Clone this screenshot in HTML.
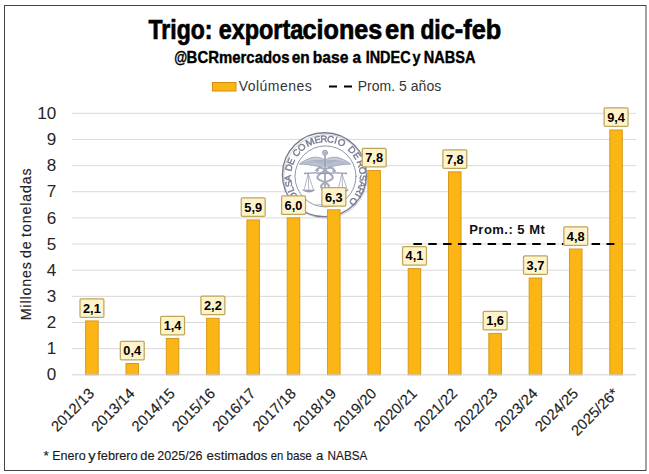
<!DOCTYPE html>
<html><head><meta charset="utf-8"><title>Trigo</title>
<style>
html,body{margin:0;padding:0;background:#fff;}
body{width:649px;height:474px;overflow:hidden;position:relative;font-family:"Liberation Sans",sans-serif;}
svg{position:absolute;left:0;top:0;display:block;}
text{font-family:"Liberation Sans",sans-serif;}
</style></head><body>
<svg width="649" height="474" viewBox="0 0 649 474">
<rect x="0" y="0" width="649" height="474" fill="#ffffff"/>
<rect x="4.5" y="5.5" width="641.5" height="465" fill="#ffffff" stroke="#454545" stroke-width="1"/>
<text x="148.5" y="39" font-size="26.9" font-weight="bold" fill="#000" stroke="#000" stroke-width="0.7" textLength="63.9" lengthAdjust="spacingAndGlyphs">Trigo:</text>
<text x="218.7" y="39" font-size="26.9" font-weight="bold" fill="#000" stroke="#000" stroke-width="0.7" textLength="84.5" lengthAdjust="spacingAndGlyphs">exporta</text>
<text x="302.6" y="39" font-size="26.9" font-weight="bold" fill="#000" stroke="#000" stroke-width="0.7" textLength="79.7" lengthAdjust="spacingAndGlyphs">ciones</text>
<text x="385.0" y="39" font-size="26.9" font-weight="bold" fill="#000" stroke="#000" stroke-width="0.7" textLength="29.8" lengthAdjust="spacingAndGlyphs">en</text>
<text x="420.4" y="39" font-size="26.9" font-weight="bold" fill="#000" stroke="#000" stroke-width="0.7" textLength="20.3" lengthAdjust="spacingAndGlyphs">di</text>
<text x="440.8" y="39" font-size="26.9" font-weight="bold" fill="#000" stroke="#000" stroke-width="0.7" textLength="60.4" lengthAdjust="spacingAndGlyphs">c-feb</text>
<text x="174.2" y="63.1" font-size="16.9" font-weight="bold" fill="#000" stroke="#000" stroke-width="0.4" textLength="12.9" lengthAdjust="spacingAndGlyphs">@</text>
<text x="186.6" y="63.1" font-size="16.9" font-weight="bold" fill="#000" stroke="#000" stroke-width="0.4" textLength="102.9" lengthAdjust="spacingAndGlyphs">BCRmercados</text>
<text x="291.7" y="63.1" font-size="16.9" font-weight="bold" fill="#000" stroke="#000" stroke-width="0.4" textLength="18.0" lengthAdjust="spacingAndGlyphs">en</text>
<text x="312.8" y="63.1" font-size="16.9" font-weight="bold" fill="#000" stroke="#000" stroke-width="0.4" textLength="35.6" lengthAdjust="spacingAndGlyphs">base</text>
<text x="352.6" y="63.1" font-size="16.9" font-weight="bold" fill="#000" stroke="#000" stroke-width="0.4" textLength="8.6" lengthAdjust="spacingAndGlyphs">a</text>
<text x="365.7" y="63.1" font-size="16.9" font-weight="bold" fill="#000" stroke="#000" stroke-width="0.4" textLength="44.9" lengthAdjust="spacingAndGlyphs">INDEC</text>
<text x="412.5" y="63.1" font-size="16.9" font-weight="bold" fill="#000" stroke="#000" stroke-width="0.4" textLength="8.0" lengthAdjust="spacingAndGlyphs">y</text>
<text x="423.8" y="63.1" font-size="16.9" font-weight="bold" fill="#000" stroke="#000" stroke-width="0.4" textLength="51.7" lengthAdjust="spacingAndGlyphs">NABSA</text>
<rect x="212.5" y="82.5" width="23.5" height="8.5" fill="#FBB616" stroke="#D08F12" stroke-width="1"/>
<text x="238.7" y="90.5" font-size="14" fill="#353535" textLength="73" lengthAdjust="spacing">Volúmenes</text>
<line x1="329" y1="86.5" x2="352" y2="86.5" stroke="#000" stroke-width="2" stroke-dasharray="8 7"/>
<text x="357.7" y="90.8" font-size="14" fill="#353535" textLength="83.5" lengthAdjust="spacing">Prom. 5 años</text>
<line x1="72" y1="348.65" x2="636" y2="348.65" stroke="#D9D9D9" stroke-width="1"/>
<line x1="72" y1="322.50" x2="636" y2="322.50" stroke="#D9D9D9" stroke-width="1"/>
<line x1="72" y1="296.35" x2="636" y2="296.35" stroke="#D9D9D9" stroke-width="1"/>
<line x1="72" y1="270.20" x2="636" y2="270.20" stroke="#D9D9D9" stroke-width="1"/>
<line x1="72" y1="244.05" x2="636" y2="244.05" stroke="#D9D9D9" stroke-width="1"/>
<line x1="72" y1="217.90" x2="636" y2="217.90" stroke="#D9D9D9" stroke-width="1"/>
<line x1="72" y1="191.75" x2="636" y2="191.75" stroke="#D9D9D9" stroke-width="1"/>
<line x1="72" y1="165.60" x2="636" y2="165.60" stroke="#D9D9D9" stroke-width="1"/>
<line x1="72" y1="139.45" x2="636" y2="139.45" stroke="#D9D9D9" stroke-width="1"/>
<line x1="72" y1="113.30" x2="636" y2="113.30" stroke="#D9D9D9" stroke-width="1"/>
<text transform="translate(56.2,380.40) scale(1.08,1)" font-size="15.8" fill="#262626" text-anchor="end">0</text>
<text transform="translate(56.2,354.25) scale(1.08,1)" font-size="15.8" fill="#262626" text-anchor="end">1</text>
<text transform="translate(56.2,328.10) scale(1.08,1)" font-size="15.8" fill="#262626" text-anchor="end">2</text>
<text transform="translate(56.2,301.95) scale(1.08,1)" font-size="15.8" fill="#262626" text-anchor="end">3</text>
<text transform="translate(56.2,275.80) scale(1.08,1)" font-size="15.8" fill="#262626" text-anchor="end">4</text>
<text transform="translate(56.2,249.65) scale(1.08,1)" font-size="15.8" fill="#262626" text-anchor="end">5</text>
<text transform="translate(56.2,223.50) scale(1.08,1)" font-size="15.8" fill="#262626" text-anchor="end">6</text>
<text transform="translate(56.2,197.35) scale(1.08,1)" font-size="15.8" fill="#262626" text-anchor="end">7</text>
<text transform="translate(56.2,171.20) scale(1.08,1)" font-size="15.8" fill="#262626" text-anchor="end">8</text>
<text transform="translate(56.2,145.05) scale(1.08,1)" font-size="15.8" fill="#262626" text-anchor="end">9</text>
<text transform="translate(56.2,118.90) scale(1.08,1)" font-size="15.8" fill="#262626" text-anchor="end">10</text>
<text transform="translate(30.6,320.3) rotate(-90)" font-size="14.2" fill="#222" stroke="#222" stroke-width="0.15" word-spacing="-1.3" textLength="151.8" lengthAdjust="spacing">Millones de toneladas</text>
<filter id="sb" x="-5%" y="-5%" width="110%" height="110%"><feGaussianBlur stdDeviation="0.35"/></filter>
<g id="seal" filter="url(#sb)" fill="none" stroke="#858aa0" stroke-linecap="round" stroke-linejoin="round">
<circle cx="324.45" cy="174.7" r="42.4" fill="#ffffff" stroke="none"/>
<circle cx="325.5" cy="176.4" r="41.9" fill="#ffffff" stroke="none"/>
<circle cx="324.45" cy="174.7" r="42" stroke-width="1.4" stroke="#7a7d92"/>
<circle cx="325.5" cy="176.4" r="41.8" stroke-width="0.6" stroke="#a3a7b8"/>
<circle cx="325.5" cy="176.4" r="30.5" stroke-width="0.9"/>
<g font-size="9.3" fill="#7a7d92" stroke="#7a7d92" stroke-width="0.42" text-anchor="middle">
<text transform="translate(325.5,176.4) rotate(-133.5) translate(0,-34.3) scale(1.04,1)">B</text>
<text transform="translate(325.5,176.4) rotate(-122) translate(0,-34.3) scale(1.06,1)">O</text>
<text transform="translate(325.5,176.4) rotate(-110.8) translate(0,-34.3) scale(1.04,1)">L</text>
<text transform="translate(325.5,176.4) rotate(-101.4) translate(0,-34.3) scale(1.0,1)">S</text>
<text transform="translate(325.5,176.4) rotate(-92.6) translate(0,-34.3) scale(0.98,1)">A</text>
<text transform="translate(325.5,176.4) rotate(-76.4) translate(0,-34.3) scale(1.04,1)">D</text>
<text transform="translate(325.5,176.4) rotate(-66.6) translate(0,-34.3) scale(1.0,1)">E</text>
<text transform="translate(325.5,176.4) rotate(-51) translate(0,-34.3) scale(1.04,1)">C</text>
<text transform="translate(325.5,176.4) rotate(-39.2) translate(0,-34.3) scale(1.06,1)">O</text>
<text transform="translate(325.5,176.4) rotate(-24.4) translate(0,-34.3) scale(1.15,1)">M</text>
<text transform="translate(325.5,176.4) rotate(-12.2) translate(0,-34.3) scale(1.0,1)">E</text>
<text transform="translate(325.5,176.4) rotate(-2.6) translate(0,-34.3) scale(1.04,1)">R</text>
<text transform="translate(325.5,176.4) rotate(7.8) translate(0,-34.3) scale(1.04,1)">C</text>
<text transform="translate(325.5,176.4) rotate(15.9) translate(0,-34.3) scale(1.0,1)">I</text>
<text transform="translate(325.5,176.4) rotate(25.6) translate(0,-34.3) scale(1.06,1)">O</text>
<text transform="translate(325.5,176.4) rotate(45) translate(0,-34.3) scale(1.04,1)">D</text>
<text transform="translate(325.5,176.4) rotate(56.5) translate(0,-34.3) scale(1.0,1)">E</text>
<text transform="translate(325.5,176.4) rotate(70.3) translate(0,-34.3) scale(1.04,1)">R</text>
<text transform="translate(325.5,176.4) rotate(81.2) translate(0,-34.3) scale(1.06,1)">O</text>
<text transform="translate(325.5,176.4) rotate(92.2) translate(0,-34.3) scale(1.0,1)">S</text>
<text transform="translate(325.5,176.4) rotate(102.2) translate(0,-34.3) scale(0.98,1)">A</text>
<text transform="translate(325.5,176.4) rotate(112.4) translate(0,-34.3) scale(1.04,1)">R</text>
<text transform="translate(325.5,176.4) rotate(120.6) translate(0,-34.3) scale(1.0,1)">I</text>
<text transform="translate(325.5,176.4) rotate(131.8) translate(0,-34.3) scale(1.06,1)">O</text>
</g>
<g stroke-width="0.9" stroke="#929ab0">
<circle cx="325" cy="152.7" r="2.5" stroke-width="1" fill="#c9ced9"/>
<circle cx="325" cy="152.7" r="0.7" stroke-width="0.6"/>
<line x1="325" y1="155" x2="325" y2="193" stroke-width="2" stroke="#a9b0c1"/>
<path d="M 323.8 159.4 C 320.0 157.0, 314.0 156.2, 309.0 158.6 C 305.0 160.2, 301.5 162.2, 299.4 164.2 C 305.0 164.0, 311.0 165.0, 316.0 166.0 C 319.0 166.8, 321.5 166.6, 323.8 166 Z" fill="#bcc3d1" fill-opacity="0.85" stroke-width="0.8"/><path d="M 323.0 160.4 Q 312.9 159.2 303.0 163.0" stroke-width="0.5"/><path d="M 323.0 161.2 Q 315.1 160.3 307.0 163.6" stroke-width="0.5"/><path d="M 323.0 162.0 Q 317.3 161.4 311.0 164.4" stroke-width="0.5"/><path d="M 323.0 162.8 Q 319.5 162.5 315.0 165.20000000000002" stroke-width="0.5"/><path d="M 323.0 163.6 Q 321.4 163.6 318.5 166.0" stroke-width="0.5"/>
<path d="M 326.2 159.4 C 330.0 157.0, 336.0 156.2, 341.0 158.6 C 345.0 160.2, 348.5 162.2, 350.6 164.2 C 345.0 164.0, 339.0 165.0, 334.0 166.0 C 331.0 166.8, 328.5 166.6, 326.2 166 Z" fill="#bcc3d1" fill-opacity="0.85" stroke-width="0.8"/><path d="M 327.0 160.4 Q 337.1 159.2 347.0 163.0" stroke-width="0.5"/><path d="M 327.0 161.2 Q 334.9 160.3 343.0 163.6" stroke-width="0.5"/><path d="M 327.0 162.0 Q 332.7 161.4 339.0 164.4" stroke-width="0.5"/><path d="M 327.0 162.8 Q 330.5 162.5 335.0 165.20000000000002" stroke-width="0.5"/><path d="M 327.0 163.6 Q 328.6 163.6 331.5 166.0" stroke-width="0.5"/>
<path d="M 316.6 170.4 C 317.6 166.8, 323 167, 325 170 C 328 173.6, 333 174.4, 332.8 177.6 C 332.6 180.4, 327.4 180.6, 325 182.4 C 322.2 184.2, 320 185.6, 321.4 187.8 C 322.6 189.4, 326 189.4, 326.6 191.6" stroke-width="2" stroke="#a3abbd"/>
<path d="M 334.4 170.8 C 333.4 167, 327.2 167, 325 170 C 321.8 173.6, 317 174.4, 317.4 177.6 C 317.8 180.4, 322.6 180.6, 325 182.4 C 327.8 184.2, 330 185.6, 328.6 187.8 C 327.4 189.4, 324.2 189.4, 323.6 191.6" stroke-width="2" stroke="#a3abbd"/>
<ellipse cx="317" cy="170.4" rx="1.5" ry="1" fill="#c3c9d6" stroke-width="0.7"/>
<ellipse cx="334" cy="170.8" rx="1.5" ry="1" fill="#c3c9d6" stroke-width="0.7"/>
<path d="M 305 173.4 Q 315 172.2 325 173.6 Q 335 172.2 346.2 173.4" stroke-width="1.2"/>
<circle cx="305" cy="173.4" r="0.9" fill="#929ab0" stroke="none"/>
<circle cx="346.2" cy="173.4" r="0.9" fill="#929ab0" stroke="none"/>
<path d="M 308.2 173.6 L 304.0 190.2 M 308.2 173.6 L 313.6 190.2 M 308.2 173.6 L 308.8 190.2" stroke-width="0.7"/>
<path d="M 303.2 190.2 L 314.4 190.2 Q 308.8 194 303.2 190.2 Z" fill="#8f97ab" stroke-width="0.9"/>
<path d="M 342.0 173.6 L 337.8 190.2 M 342.0 173.6 L 347.4 190.2 M 342.0 173.6 L 342.6 190.2" stroke-width="0.7"/>
<path d="M 337.0 190.2 L 348.2 190.2 Q 342.6 194 337.0 190.2 Z" fill="#8f97ab" stroke-width="0.9"/>
<path d="M 316 205.2 Q 320 203.6 324 205.2 T 332 205.2" stroke-width="0.6"/>
</g></g>

<rect x="85.65" y="320.91" width="12.50" height="53.89" fill="#FBB616" stroke="#D9991A" stroke-width="1"/>
<rect x="125.97" y="363.53" width="12.50" height="11.27" fill="#FBB616" stroke="#D9991A" stroke-width="1"/>
<rect x="166.29" y="338.43" width="12.50" height="36.37" fill="#FBB616" stroke="#D9991A" stroke-width="1"/>
<rect x="206.61" y="318.29" width="12.50" height="56.51" fill="#FBB616" stroke="#D9991A" stroke-width="1"/>
<rect x="246.93" y="219.97" width="12.50" height="154.83" fill="#FBB616" stroke="#D9991A" stroke-width="1"/>
<rect x="287.25" y="217.88" width="12.50" height="156.92" fill="#FBB616" stroke="#D9991A" stroke-width="1"/>
<rect x="327.57" y="209.77" width="12.50" height="165.03" fill="#FBB616" stroke="#D9991A" stroke-width="1"/>
<rect x="367.89" y="170.55" width="12.50" height="204.25" fill="#FBB616" stroke="#D9991A" stroke-width="1"/>
<rect x="408.21" y="268.61" width="12.50" height="106.19" fill="#FBB616" stroke="#D9991A" stroke-width="1"/>
<rect x="448.53" y="171.85" width="12.50" height="202.95" fill="#FBB616" stroke="#D9991A" stroke-width="1"/>
<rect x="488.85" y="333.46" width="12.50" height="41.34" fill="#FBB616" stroke="#D9991A" stroke-width="1"/>
<rect x="529.17" y="278.02" width="12.50" height="96.78" fill="#FBB616" stroke="#D9991A" stroke-width="1"/>
<rect x="569.49" y="249.00" width="12.50" height="125.80" fill="#FBB616" stroke="#D9991A" stroke-width="1"/>
<rect x="609.81" y="130.01" width="12.50" height="244.79" fill="#FBB616" stroke="#D9991A" stroke-width="1"/>
<line x1="72" y1="374.80" x2="636" y2="374.80" stroke="#D0D0D0" stroke-width="1"/>
<line x1="413.4" y1="244.05" x2="614.4" y2="244.05" stroke="#000" stroke-width="2.1" stroke-dasharray="8.45 6.4"/>
<text x="469.2" y="234.2" font-size="13" font-weight="bold" fill="#111" textLength="75.6" lengthAdjust="spacing">Prom.: 5 Mt</text>
<rect x="80.00" y="298.81" width="23.9" height="18.5" rx="1.1" ry="1.1" fill="#FFF3CC" stroke="#BCA75C" stroke-width="1.25"/>
<text x="91.90" y="312.71" font-size="12.8" font-weight="bold" fill="#000" text-anchor="middle">2,1</text>
<rect x="120.32" y="341.43" width="23.9" height="18.5" rx="1.1" ry="1.1" fill="#FFF3CC" stroke="#BCA75C" stroke-width="1.25"/>
<text x="132.22" y="355.33" font-size="12.8" font-weight="bold" fill="#000" text-anchor="middle">0,4</text>
<rect x="160.64" y="316.33" width="23.9" height="18.5" rx="1.1" ry="1.1" fill="#FFF3CC" stroke="#BCA75C" stroke-width="1.25"/>
<text x="172.54" y="330.23" font-size="12.8" font-weight="bold" fill="#000" text-anchor="middle">1,4</text>
<rect x="200.96" y="296.19" width="23.9" height="18.5" rx="1.1" ry="1.1" fill="#FFF3CC" stroke="#BCA75C" stroke-width="1.25"/>
<text x="212.86" y="310.09" font-size="12.8" font-weight="bold" fill="#000" text-anchor="middle">2,2</text>
<rect x="241.28" y="197.87" width="23.9" height="18.5" rx="1.1" ry="1.1" fill="#FFF3CC" stroke="#BCA75C" stroke-width="1.25"/>
<text x="253.18" y="211.77" font-size="12.8" font-weight="bold" fill="#000" text-anchor="middle">5,9</text>
<rect x="281.60" y="195.78" width="23.9" height="18.5" rx="1.1" ry="1.1" fill="#FFF3CC" stroke="#BCA75C" stroke-width="1.25"/>
<text x="293.50" y="209.68" font-size="12.8" font-weight="bold" fill="#000" text-anchor="middle">6,0</text>
<rect x="321.92" y="187.67" width="23.9" height="18.5" rx="1.1" ry="1.1" fill="#FFF3CC" stroke="#BCA75C" stroke-width="1.25"/>
<text x="333.82" y="201.57" font-size="12.8" font-weight="bold" fill="#000" text-anchor="middle">6,3</text>
<rect x="362.24" y="148.45" width="23.9" height="18.5" rx="1.1" ry="1.1" fill="#FFF3CC" stroke="#BCA75C" stroke-width="1.25"/>
<text x="374.14" y="162.35" font-size="12.8" font-weight="bold" fill="#000" text-anchor="middle">7,8</text>
<rect x="402.56" y="246.51" width="23.9" height="18.5" rx="1.1" ry="1.1" fill="#FFF3CC" stroke="#BCA75C" stroke-width="1.25"/>
<text x="414.46" y="260.41" font-size="12.8" font-weight="bold" fill="#000" text-anchor="middle">4,1</text>
<rect x="442.88" y="149.75" width="23.9" height="18.5" rx="1.1" ry="1.1" fill="#FFF3CC" stroke="#BCA75C" stroke-width="1.25"/>
<text x="454.78" y="163.65" font-size="12.8" font-weight="bold" fill="#000" text-anchor="middle">7,8</text>
<rect x="483.20" y="311.36" width="23.9" height="18.5" rx="1.1" ry="1.1" fill="#FFF3CC" stroke="#BCA75C" stroke-width="1.25"/>
<text x="495.10" y="325.26" font-size="12.8" font-weight="bold" fill="#000" text-anchor="middle">1,6</text>
<rect x="523.52" y="255.92" width="23.9" height="18.5" rx="1.1" ry="1.1" fill="#FFF3CC" stroke="#BCA75C" stroke-width="1.25"/>
<text x="535.42" y="269.82" font-size="12.8" font-weight="bold" fill="#000" text-anchor="middle">3,7</text>
<rect x="563.84" y="226.90" width="23.9" height="18.5" rx="1.1" ry="1.1" fill="#FFF3CC" stroke="#BCA75C" stroke-width="1.25"/>
<text x="575.74" y="240.80" font-size="12.8" font-weight="bold" fill="#000" text-anchor="middle">4,8</text>
<rect x="604.16" y="107.91" width="23.9" height="18.5" rx="1.1" ry="1.1" fill="#FFF3CC" stroke="#BCA75C" stroke-width="1.25"/>
<text x="616.06" y="121.81" font-size="12.8" font-weight="bold" fill="#000" text-anchor="middle">9,4</text>
<text transform="translate(95.20,394.50) rotate(-45)" font-size="14.9" fill="#1c1c1c" stroke="#1c1c1c" stroke-width="0.15" text-anchor="end">2012/13</text>
<text transform="translate(135.52,394.50) rotate(-45)" font-size="14.9" fill="#1c1c1c" stroke="#1c1c1c" stroke-width="0.15" text-anchor="end">2013/14</text>
<text transform="translate(175.84,394.50) rotate(-45)" font-size="14.9" fill="#1c1c1c" stroke="#1c1c1c" stroke-width="0.15" text-anchor="end">2014/15</text>
<text transform="translate(216.16,394.50) rotate(-45)" font-size="14.9" fill="#1c1c1c" stroke="#1c1c1c" stroke-width="0.15" text-anchor="end">2015/16</text>
<text transform="translate(256.48,394.50) rotate(-45)" font-size="14.9" fill="#1c1c1c" stroke="#1c1c1c" stroke-width="0.15" text-anchor="end">2016/17</text>
<text transform="translate(296.80,394.50) rotate(-45)" font-size="14.9" fill="#1c1c1c" stroke="#1c1c1c" stroke-width="0.15" text-anchor="end">2017/18</text>
<text transform="translate(337.12,394.50) rotate(-45)" font-size="14.9" fill="#1c1c1c" stroke="#1c1c1c" stroke-width="0.15" text-anchor="end">2018/19</text>
<text transform="translate(377.44,394.50) rotate(-45)" font-size="14.9" fill="#1c1c1c" stroke="#1c1c1c" stroke-width="0.15" text-anchor="end">2019/20</text>
<text transform="translate(417.76,394.50) rotate(-45)" font-size="14.9" fill="#1c1c1c" stroke="#1c1c1c" stroke-width="0.15" text-anchor="end">2020/21</text>
<text transform="translate(458.08,394.50) rotate(-45)" font-size="14.9" fill="#1c1c1c" stroke="#1c1c1c" stroke-width="0.15" text-anchor="end">2021/22</text>
<text transform="translate(498.40,394.50) rotate(-45)" font-size="14.9" fill="#1c1c1c" stroke="#1c1c1c" stroke-width="0.15" text-anchor="end">2022/23</text>
<text transform="translate(538.72,394.50) rotate(-45)" font-size="14.9" fill="#1c1c1c" stroke="#1c1c1c" stroke-width="0.15" text-anchor="end">2023/24</text>
<text transform="translate(579.04,394.50) rotate(-45)" font-size="14.9" fill="#1c1c1c" stroke="#1c1c1c" stroke-width="0.15" text-anchor="end">2024/25</text>
<text transform="translate(619.36,394.50) rotate(-45)" font-size="14.9" fill="#1c1c1c" stroke="#1c1c1c" stroke-width="0.15" text-anchor="end">2025/26*</text>
<text x="43.5" y="460" font-size="13.1" fill="#1a1a1a" stroke="#1a1a1a" stroke-width="0.15" textLength="5.3" lengthAdjust="spacingAndGlyphs">*</text>
<text x="52.3" y="460" font-size="13.1" fill="#1a1a1a" stroke="#1a1a1a" stroke-width="0.15" textLength="33.3" lengthAdjust="spacingAndGlyphs">Enero</text>
<text x="88.3" y="460" font-size="13.1" fill="#1a1a1a" stroke="#1a1a1a" stroke-width="0.15" textLength="7.3" lengthAdjust="spacingAndGlyphs">y</text>
<text x="97.3" y="460" font-size="13.1" fill="#1a1a1a" stroke="#1a1a1a" stroke-width="0.15" textLength="40.3" lengthAdjust="spacingAndGlyphs">febrero</text>
<text x="140.3" y="460" font-size="13.1" fill="#1a1a1a" stroke="#1a1a1a" stroke-width="0.15" textLength="14.3" lengthAdjust="spacingAndGlyphs">de</text>
<text x="157.3" y="460" font-size="13.1" fill="#1a1a1a" stroke="#1a1a1a" stroke-width="0.15" textLength="45.3" lengthAdjust="spacingAndGlyphs">2025/26</text>
<text x="206.6" y="460" font-size="13.1" fill="#1a1a1a" stroke="#1a1a1a" stroke-width="0.15" textLength="60.8" lengthAdjust="spacingAndGlyphs">estimados</text>
<text x="270.7" y="460" font-size="13.1" fill="#1a1a1a" stroke="#1a1a1a" stroke-width="0.15" textLength="12.5" lengthAdjust="spacingAndGlyphs">en</text>
<text x="286.5" y="460" font-size="13.1" fill="#1a1a1a" stroke="#1a1a1a" stroke-width="0.15" textLength="25.3" lengthAdjust="spacingAndGlyphs">base</text>
<text x="316.1" y="460" font-size="13.1" fill="#1a1a1a" stroke="#1a1a1a" stroke-width="0.15" textLength="7.3" lengthAdjust="spacingAndGlyphs">a</text>
<text x="327.6" y="460" font-size="13.1" fill="#1a1a1a" stroke="#1a1a1a" stroke-width="0.15" textLength="39.8" lengthAdjust="spacingAndGlyphs">NABSA</text>
</svg></body></html>
